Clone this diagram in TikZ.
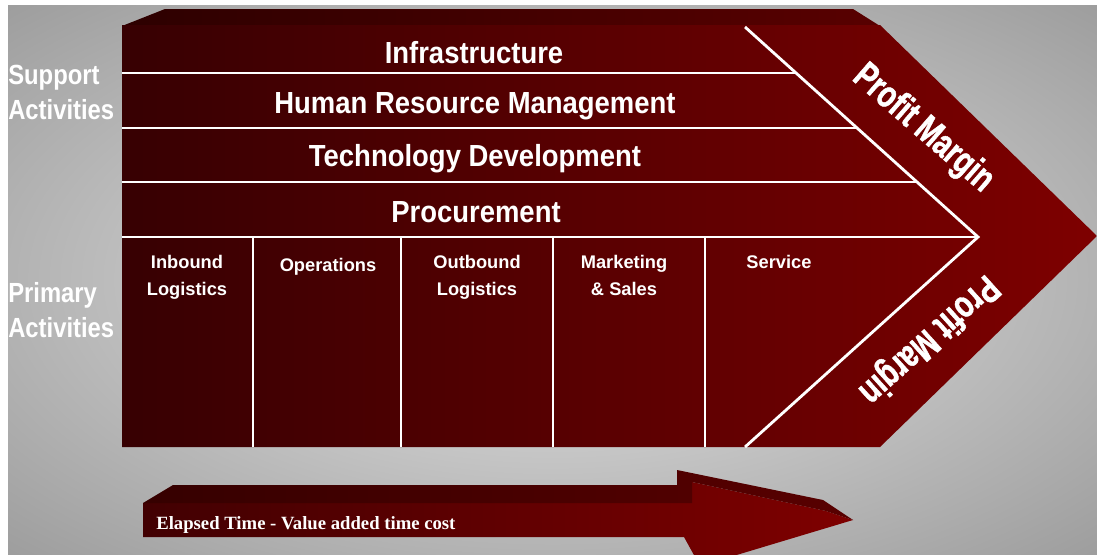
\documentclass[tikz,border=0pt]{standalone}
\usepackage{fontspec}
\setmainfont{Liberation Sans}
\newfontfamily\bandfont{Liberation Sans}[FakeStretch=0.9]
\newfontfamily\sidefont{Liberation Sans}[FakeStretch=0.86]
\newfontfamily\marginfont{Liberation Sans}[FakeStretch=0.74, FakeBold=1.2]
\newfontfamily\timefont{Liberation Serif}

\definecolor{chaindark}{RGB}{55,0,2}
\definecolor{chainred}{RGB}{126,0,0}
\definecolor{topleft}{RGB}{45,0,0}
\definecolor{topright}{RGB}{88,0,0}
\definecolor{greyin}{RGB}{205,205,205}
\definecolor{greyout}{RGB}{128,128,128}

\pgfdeclareradialshading{greyglow}{\pgfpoint{0bp}{0bp}}{color(0bp)=(greyin); color(12bp)=(greyin); color(50bp)=(greyout)}

\tikzset{
	band/.style={text=white, inner sep=0pt, anchor=base, font=\bandfont\bfseries\fontsize{21.7}{26}\selectfont},
	side/.style={text=white, inner sep=0pt, anchor=north west, align=left, font=\sidefont\bfseries\fontsize{19.7}{24.9}\selectfont},
	prim/.style={text=white, inner sep=0pt, anchor=north, align=center, font=\bfseries\fontsize{13}{19.2}\selectfont},
	margin/.style={text=white, inner sep=0pt, font=\marginfont\bfseries\fontsize{27}{30}\selectfont},
	divider/.style={white, line width=2pt},
}

\begin{document}
\begin{tikzpicture}[x=0.25mm, y=-0.25mm]
	\useasboundingbox (0,0) rectangle (1097,554);
	%%%%% START %%%%%
	\fill[white] (0,0) rectangle (1097,554);
	\shade[shading=greyglow] (8,5) rectangle (1097,554);
	
	% value chain body
	\shade[left color=topleft, right color=topright] (122,26) -- (165,9) -- (853,9) -- (880,26) -- cycle;
	\shade[left color=chaindark, right color=chainred] (122,25) -- (880,25) -- (1097,236) -- (880,447) -- (122,447) -- cycle;
	
	\foreach \y/\x in {73/797, 128/856, 182/917, 237/978}
		\draw[divider] (122,\y) -- (\x,\y);
	\draw[divider] (745,27) -- (978,237) -- (745,447);
	\foreach \x in {253,401,553,705}
		\draw[divider] (\x,237) -- (\x,447);
	
	\node[band] (infra) at (474,63) {Infrastructure};
	\node[band] (hrm) at (475,113) {Human Resource Management};
	\node[band] (tech) at (475,166) {Technology Development};
	\node[band] (proc) at (476,222) {Procurement};
	
	\node[prim] (inbound) at (187,255) {Inbound\\Logistics};
	\node[prim] (ops) at (328,258) {Operations};
	\node[prim] (outbound) at (477,255) {Outbound\\Logistics};
	\node[prim] (marketing) at (624,255) {Marketing\\\& Sales};
	\node[prim] (service) at (779,255) {Service};
	
	\node[margin, rotate=-41] (upper) at (923,129) {Profit Margin};
	\node[margin, rotate=222] (lower) at (928,339) {Profit Margin};
	
	\node[side] (support) at (8,65) {Support\\Activities};
	\node[side] (primary) at (8,282) {Primary\\Activities};
	
	% time arrow
	\shade[left color=chaindark!85!chainred, right color=chainred] (143,503) -- (692,503) -- (692,482) -- (826,511) -- (853,520) -- (700,566) -- (684,537) -- (143,537) -- cycle;
	\shade[left color=topleft!80!topright, right color=topright] (143,503) -- (173,485) -- (677,485) -- (677,470) -- (823,500) -- (853,520) -- (826,511) -- (692,482) -- (692,503) -- cycle;
	\node[text=white, inner sep=0pt, anchor=base west, font=\timefont\bfseries\fontsize{13.3}{16}\selectfont] (elapsed) at (156,529) {Elapsed Time - Value added time cost};
	%%%%% END %%%%%
\end{tikzpicture}
\end{document}
